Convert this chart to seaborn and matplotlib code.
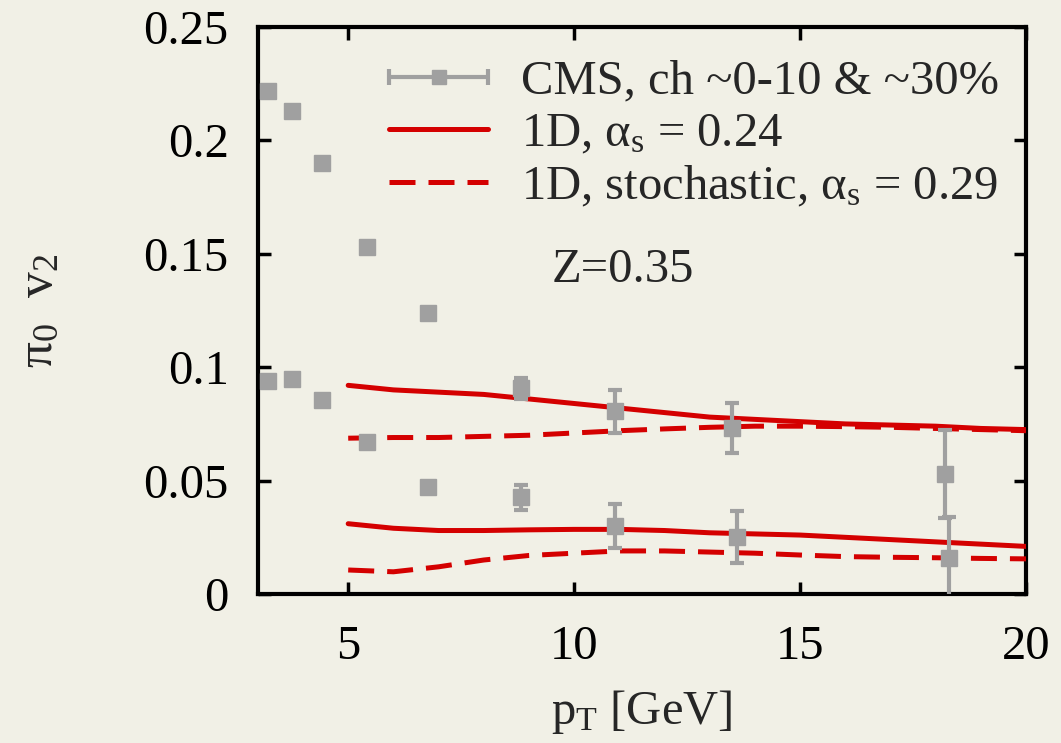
import numpy as np
import pandas as pd
import seaborn as sns
import matplotlib
matplotlib.use("Agg")
import matplotlib.pyplot as plt
from matplotlib.lines import Line2D
from matplotlib.legend_handler import HandlerBase
from matplotlib.ticker import FixedLocator, FuncFormatter

# CMS charged-hadron v2, two centrality classes
cms_pt = [3.22, 3.75, 4.41, 5.42, 6.77, 8.82, 10.9, 13.5, 18.2]
cms_v2_high = [0.2216, 0.2128, 0.190, 0.153, 0.124, 0.0907, 0.0806, 0.073, 0.053]
cms_err_high = [0.0005, 0.0005, 0.0005, 0.001, 0.002, 0.0045, 0.0095, 0.011, 0.0195]
cms_pt_low = [3.22, 3.75, 4.41, 5.42, 6.77, 8.82, 10.9, 13.6, 18.3]
cms_v2_low = [0.0938, 0.0947, 0.0855, 0.067, 0.0471, 0.0427, 0.030, 0.025, 0.016]
cms_err_low = [0.0005, 0.0005, 0.0005, 0.001, 0.002, 0.0055, 0.0095, 0.0115, 0.018]

# 1D model curves
model_pt = [5, 6, 7, 8, 9, 10, 11, 12, 13, 14, 15, 16, 17, 18, 19, 20]
v2_1d_high = [0.092, 0.090, 0.089, 0.088, 0.086, 0.084, 0.082, 0.080, 0.078, 0.077,
              0.076, 0.075, 0.0745, 0.074, 0.073, 0.0725]
v2_stoch_high = [0.0687, 0.069, 0.069, 0.0695, 0.070, 0.071, 0.072, 0.0728, 0.0735, 0.074,
                 0.074, 0.0738, 0.0735, 0.073, 0.0725, 0.072]
v2_1d_low = [0.031, 0.029, 0.028, 0.028, 0.0283, 0.0285, 0.0285, 0.028, 0.027, 0.0265,
             0.026, 0.025, 0.024, 0.023, 0.022, 0.021]
v2_stoch_low = [0.0106, 0.0098, 0.012, 0.015, 0.017, 0.018, 0.019, 0.019, 0.0185, 0.018,
                0.0172, 0.0165, 0.0162, 0.016, 0.0157, 0.0155]

x_ticks = [5, 10, 15, 20]
y_ticks = [0, 0.05, 0.1, 0.15, 0.2, 0.25]

bg = "#f1f0e6"
grey = "#a0a0a0"
red = "#d40000"
fs = 35
dash = (0, (5.2, 2.6))

sns.set_theme(style="ticks")
plt.rcParams["font.family"] = ["Liberation Serif", "DejaVu Serif"]
plt.rcParams["mathtext.fontset"] = "custom"
plt.rcParams["mathtext.rm"] = "Liberation Serif"
plt.rcParams["mathtext.it"] = "Liberation Serif:italic"
plt.rcParams["font.size"] = fs

fig = plt.figure(figsize=(10.61, 7.43), dpi=100, facecolor=bg)
ax = fig.add_axes([0.243, 0.2005, 0.724, 0.7632])
ax.set_facecolor(bg)

# model curves
curves = pd.DataFrame({
    "pt": model_pt * 4,
    "v2": v2_1d_high + v2_1d_low + v2_stoch_high + v2_stoch_low,
    "model": ["1d"] * 32 + ["stoch"] * 32,
    "set": (["high"] * 16 + ["low"] * 16) * 2,
})
for (model, cls), sub in curves.groupby(["model", "set"]):
    sns.lineplot(data=sub, x="pt", y="v2", ax=ax, color=red, lw=3.6,
                 linestyle="-" if model == "1d" else dash,
                 legend=False, zorder=3)

# CMS points
for xs, ys, es in [(cms_pt, cms_v2_high, cms_err_high), (cms_pt_low, cms_v2_low, cms_err_low)]:
    ax.errorbar(xs, ys, yerr=es, fmt="s", color=grey, ms=11, mec=grey,
                elinewidth=3, capsize=5, capthick=3, zorder=4)

ax.set_xlim(3, 20)
ax.set_ylim(0, 0.25)
ax.xaxis.set_major_locator(FixedLocator(x_ticks))
ax.yaxis.set_major_locator(FixedLocator(y_ticks))
ax.yaxis.set_major_formatter(FuncFormatter(lambda v, p: f"{v:g}"))
ax.tick_params(direction="in", length=9, width=2.5, top=True, right=True,
               labelsize=fs, colors="black", pad=21)
ax.tick_params(axis="x", pad=22)
for s in ax.spines.values():
    s.set_linewidth(3)
    s.set_color("black")
    s.set_visible(True)

ax.set_xlabel(r"$\mathrm{p_T}$ [GeV]", fontsize=fs, labelpad=14)
ax.set_ylabel(r"$\mathrm{π_0\ \ v_2}$", fontsize=fs + 2, labelpad=58)

ax.text(9.5, 0.1374, "Z=0.35", fontsize=fs)


class HandlerDataBar(HandlerBase):
    def create_artists(self, legend, orig, xd, yd, w, h, fontsize, trans):
        y = yd + h / 2
        line = Line2D([xd, xd + w], [y, y], color=grey, lw=3, transform=trans)
        caps = Line2D([xd, xd + w], [y, y], ls="none", marker="|", ms=12, mew=3,
                      color=grey, transform=trans)
        mk = Line2D([xd + w / 2], [y], ls="none", marker="s", ms=10, color=grey,
                    transform=trans)
        return [line, caps, mk]


h_data = Line2D([], [], color=grey)
h_1d = Line2D([], [], color=red, lw=3.6)
h_st = Line2D([], [], color=red, lw=3.6, linestyle=dash)
ax.legend([h_data, h_1d, h_st],
          ["CMS, ch ~0-10 & ~30%", r"1D, $\mathrm{α_s}$ = 0.24",
           r"1D, stochastic, $\mathrm{α_s}$ = 0.29"],
          handler_map={h_data: HandlerDataBar()},
          loc="upper right", frameon=False, fontsize=fs, handlelength=2.04,
          handletextpad=0.68, labelspacing=0.17, borderaxespad=0.1,
          bbox_to_anchor=(0.997, 0.985))

fig.savefig("out.png", dpi=100, facecolor=bg)
